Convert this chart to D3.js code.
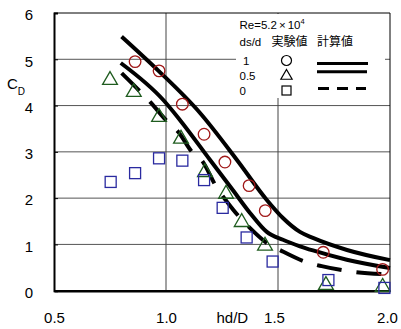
<!DOCTYPE html>
<html><head><meta charset="utf-8">
<script src="https://cdn.jsdelivr.net/npm/d3@7"></script>
<style>body{margin:0;background:#fff}svg{display:block}text{font-family:Arial,"Liberation Sans","Noto Sans CJK JP",sans-serif;fill:#000}</style>
</head><body><svg id="c" width="401" height="329"></svg>
<script>
// experimental values
const circX = [0.862,0.969,1.073,1.17,1.263,1.371,1.443,1.702,1.967];
const circY = [4.95,4.75,4.03,3.38,2.78,2.27,1.73,0.83,0.46];
const triX = [0.75,0.856,0.969,1.067,1.174,1.268,1.338,1.442,1.714,1.967];
const triY = [4.55,4.29,3.75,3.28,2.56,2.09,1.48,0.97,0.12,0.08];
const sqX = [0.753,0.862,0.969,1.073,1.17,1.253,1.36,1.476,1.725,1.975];
const sqY = [2.35,2.54,2.86,2.81,2.39,1.79,1.15,0.63,0.23,0.06];
// calculated values
const calc1X = [0.802,0.969,1.152,1.316,1.45,1.522,1.598,1.656,1.808,2.0];
const calc1Y = [5.49,4.74,3.84,2.83,1.96,1.57,1.27,1.14,0.88,0.66];
const calc05X = [0.798,0.988,1.062,1.196,1.299,1.375,1.45,1.522,1.598,1.656,1.807,2.0];
const calc05Y = [4.92,4.12,3.69,2.83,2.17,1.68,1.27,1.10,0.96,0.87,0.67,0.49];
const calc0X = [0.802,0.881,0.929,1.003,1.055,1.119,1.159,1.223,1.30,1.38,1.442,1.524,1.625,1.695,1.804,2.0];
const calc0Y = [4.70,4.32,4.08,3.67,3.43,2.98,2.82,2.26,1.75,1.33,1.06,0.84,0.62,0.53,0.43,0.35];
const xTicks = [0.5,1.0,1.5,2.0];
const xTickLabels = ["0.5","1.0","1.5","2.0"];
const yTicks = [0,1,2,3,4,5,6];
const legendRows = ["1","0.5","0"];

const svg = d3.select("#c");
const x = d3.scaleLinear().domain([0.5,2]).range([54,390]);
const y = d3.scaleLinear().domain([0,6]).range([290.7,13]);

// grid
svg.append("g").selectAll("line").data([1,2,3,4,5]).join("line")
  .attr("x1",x(0.5)).attr("x2",x(2)).attr("y1",d=>y(d)).attr("y2",d=>y(d))
  .attr("stroke","#555").attr("stroke-width",1);
svg.append("g").selectAll("line").data([1.0,1.5]).join("line")
  .attr("x1",d=>x(d)).attr("x2",d=>x(d)).attr("y1",y(0)).attr("y2",y(6))
  .attr("stroke","#444").attr("stroke-width",1);
// frame
svg.append("line").attr("x1",x(0.5)).attr("x2",x(2)).attr("y1",y(6)).attr("y2",y(6)).attr("stroke","#000").attr("stroke-width",1);
svg.append("line").attr("x1",x(2)).attr("x2",x(2)).attr("y1",y(6)).attr("y2",y(0)).attr("stroke","#000").attr("stroke-width",1);

// legend background
svg.append("rect").attr("x",236).attr("y",y(6)+1).attr("width",149).attr("height",84).attr("fill","#fff");

// axes
const yAxis = d3.axisLeft(y).tickValues(yTicks).tickSize(-4).tickPadding(21).tickFormat(d3.format("d"));
const gy = svg.append("g").attr("transform",`translate(${x(0.5)},0)`).call(yAxis);
gy.select(".domain").attr("stroke-width",2);
gy.selectAll("text").style("font-size","15px").attr("dy","0.45em");
const xAxis = d3.axisBottom(x).tickValues(xTicks).tickSize(0).tickFormat((d,i)=>xTickLabels[i]);
const gx = svg.append("g").attr("transform",`translate(0,${y(0)})`).call(xAxis);
gx.select(".domain").attr("stroke-width",2.5);
gx.selectAll("text").style("font-size","15px").attr("y",32.3).attr("dy",0)
  .attr("dx",(d)=> d===1.5 ? -4 : (d===2.0 ? -3 : 0));

// axis titles
svg.append("text").attr("x",216.5).attr("y",323).style("font-size","15px").text("hd/D");
const cd = svg.append("text").attr("x",7).attr("y",88.5).style("font-size","15px");
cd.append("tspan").text("C");
cd.append("tspan").attr("dy",6).style("font-size","10px").text("D");

// curves
const line = d3.line().x(d=>x(d[0])).y(d=>y(d[1])).curve(d3.curveMonotoneX);
const zip = (a,b)=>a.map((v,i)=>[v,b[i]]);
svg.append("path").attr("d",line(zip(calc1X,calc1Y))).attr("fill","none").attr("stroke","#000").attr("stroke-width",4);
svg.append("path").attr("d",line(zip(calc05X,calc05Y))).attr("fill","none").attr("stroke","#000").attr("stroke-width",4);
svg.append("path").attr("d",line(zip(calc0X,calc0Y))).attr("fill","none").attr("stroke","#000").attr("stroke-width",4).attr("stroke-dasharray","25,15");

// markers
svg.append("g").selectAll("circle").data(zip(circX,circY)).join("circle")
  .attr("cx",d=>x(d[0])).attr("cy",d=>y(d[1])).attr("r",5.8)
  .attr("fill","none").attr("stroke","#a01818").attr("stroke-width",1.3);
const tri = d3.symbol().type(d3.symbolTriangle).size(95);
svg.append("g").selectAll("path").data(zip(triX,triY)).join("path")
  .attr("transform",d=>`translate(${x(d[0])},${y(d[1])})`).attr("d",tri())
  .attr("fill","none").attr("stroke","#1f5c1f").attr("stroke-width",1.3);
svg.append("g").selectAll("rect").data(zip(sqX,sqY)).join("rect")
  .attr("x",d=>x(d[0])-5.5).attr("y",d=>y(d[1])-5.5).attr("width",11).attr("height",11)
  .attr("fill","none").attr("stroke","#2a2aa0").attr("stroke-width",1.3);

// legend
const lg = svg.append("g");
const t1 = lg.append("text").attr("x",239.5).attr("y",28.5).style("font-size","11.5px");
t1.append("tspan").text("Re=5.2");
t1.append("tspan").attr("dx",2).text("×");
t1.append("tspan").attr("dx",2).text("10");
t1.append("tspan").attr("dy",-5).style("font-size","7.5px").text("4");
lg.append("text").attr("x",239.5).attr("y",46).style("font-size","11.5px").text("ds/d");
lg.append("text").attr("x",271.5).attr("y",46).style("font-size","12px").text("実験値");
lg.append("text").attr("x",317).attr("y",46).style("font-size","12px").text("計算値");
const rowY = [60.5,75.5,90.5];
lg.selectAll("text.row").data(legendRows).join("text").attr("class","row")
  .attr("x",(d,i)=> i===0 ? 243 : 239.5).attr("y",(d,i)=>rowY[i]+4).style("font-size","11.5px").text(d=>d);
lg.append("circle").attr("cx",286.5).attr("cy",rowY[0]).attr("r",5).attr("fill","none").attr("stroke","#000").attr("stroke-width",1.2);
lg.append("path").attr("transform",`translate(286.5,${rowY[1]+0.5})`).attr("d",d3.symbol().type(d3.symbolTriangle).size(55)()).attr("fill","none").attr("stroke","#000").attr("stroke-width",1.2);
lg.append("rect").attr("x",282).attr("y",rowY[2]-4.5).attr("width",9).attr("height",9).attr("fill","none").attr("stroke","#000").attr("stroke-width",1.2);
lg.append("line").attr("x1",317).attr("x2",368).attr("y1",63.5).attr("y2",63.5).attr("stroke","#000").attr("stroke-width",3);
lg.append("line").attr("x1",317).attr("x2",367).attr("y1",71.8).attr("y2",71.8).attr("stroke","#000").attr("stroke-width",3);
lg.append("line").attr("x1",318).attr("x2",366).attr("y1",88.5).attr("y2",88.5).attr("stroke","#000").attr("stroke-width",3).attr("stroke-dasharray","11,8");
</script></body></html>
